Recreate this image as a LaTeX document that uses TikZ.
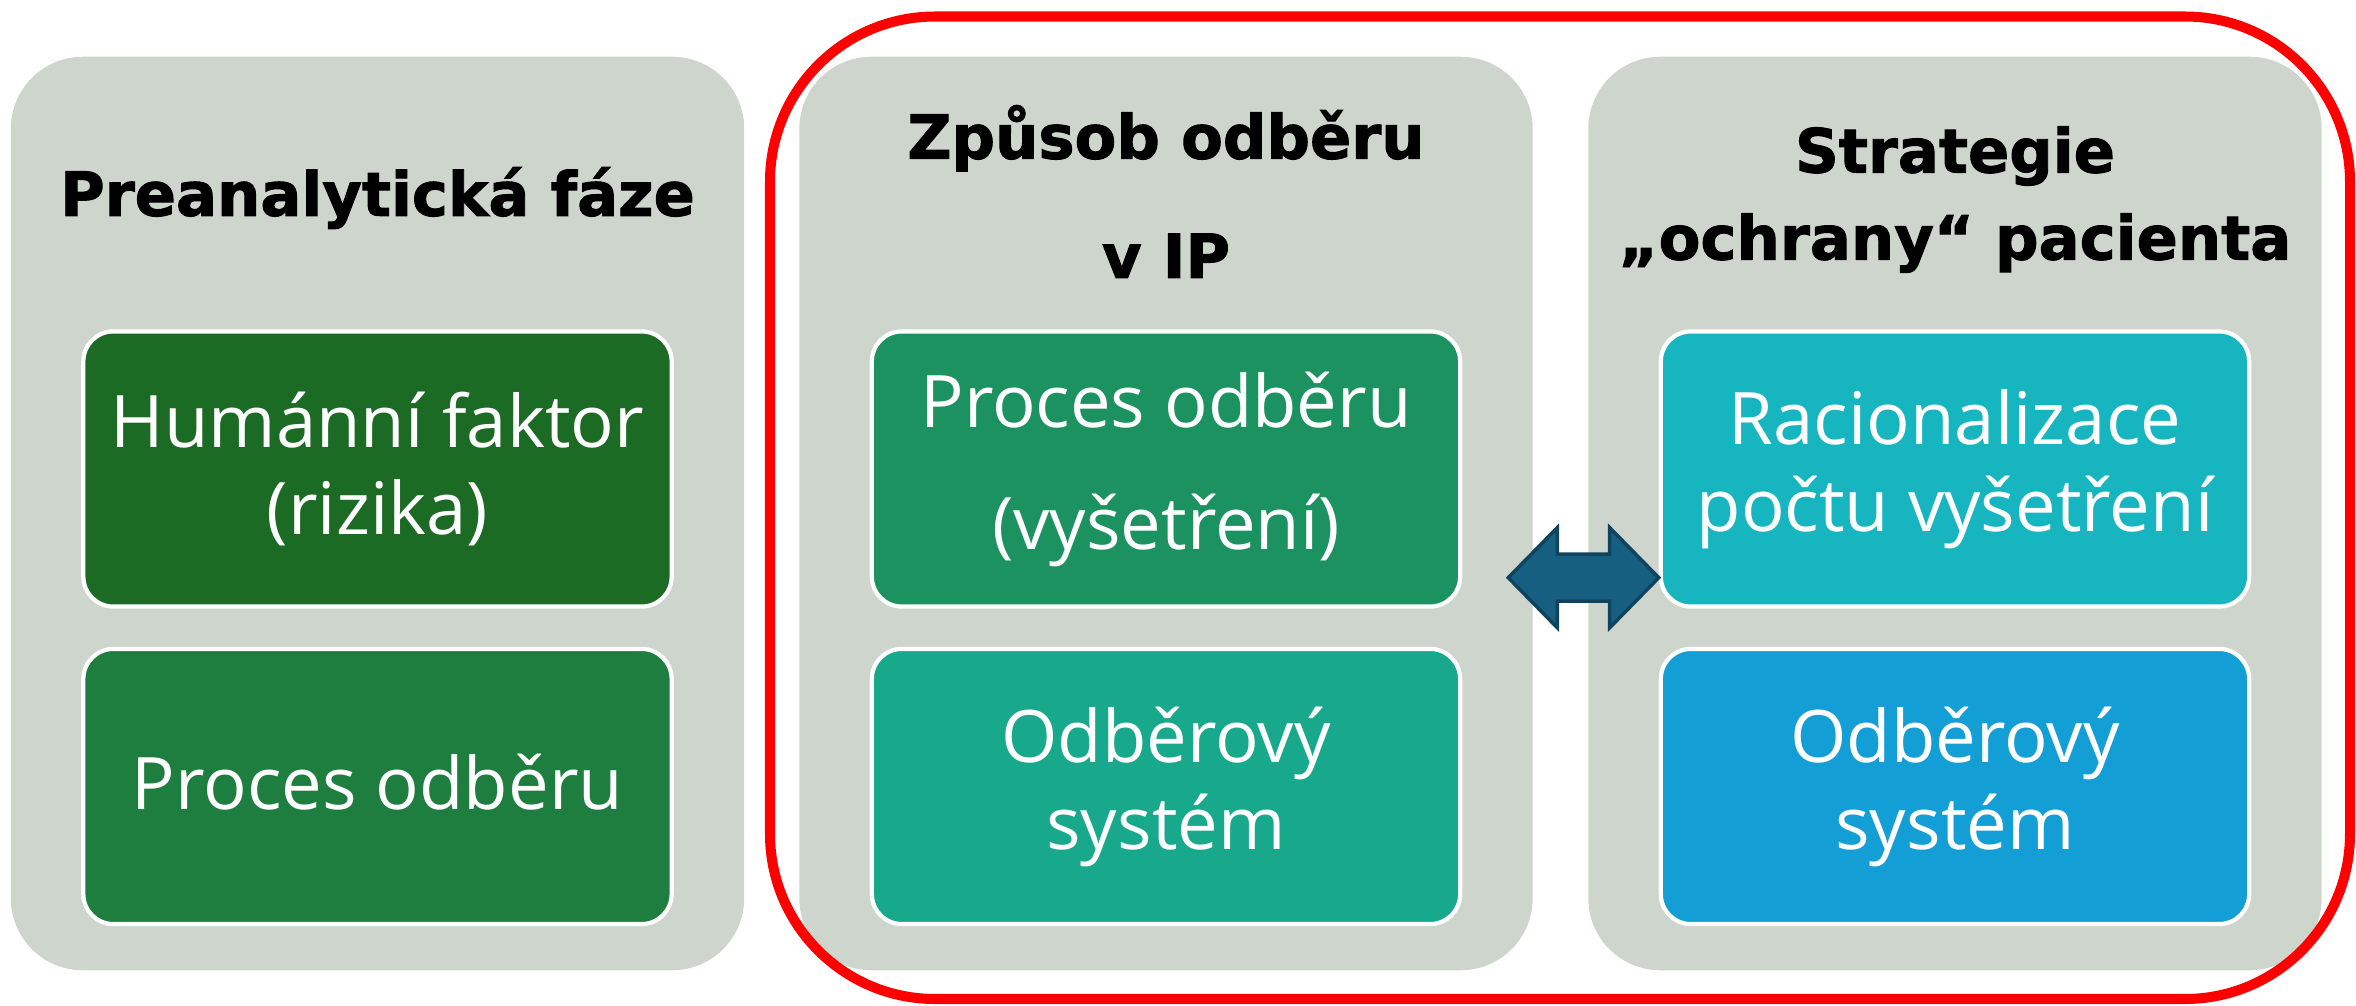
\documentclass[tikz,border=0pt]{standalone}
\usepackage{fontspec}
\setmainfont{Open Sans}
\newfontfamily\headfont{DejaVu Sans}[BoldFeatures={FakeBold=1.6}]
\usepackage{tikz}
\usetikzlibrary{calc}
\usetikzlibrary{positioning}
\definecolor{panelgray}{RGB}{206, 213, 205}
\definecolor{forest}{RGB}{28, 107, 36}
\definecolor{fern}{RGB}{30, 126, 64}
\definecolor{jade}{RGB}{27, 146, 96}
\definecolor{persian}{RGB}{24, 168, 140}
\definecolor{cyanite}{RGB}{22, 181, 192}
\definecolor{cerulean}{RGB}{19, 158, 214}
\definecolor{petrol}{RGB}{22, 95, 128}
\definecolor{petroldark}{RGB}{16, 68, 94}
\definecolor{signalred}{RGB}{255, 0, 0}

\tikzset{
  panel/.style={fill=panelgray, rounded corners=0.72cm, minimum width=7.33cm, minimum height=9.13cm, inner sep=0pt},
  headline/.style={font=\headfont\bfseries\fontsize{17.3pt}{21pt}\selectfont, align=center, text=black, inner sep=0pt},
  card/.style={draw=white, line width=1.2pt, rounded corners=0.3cm, minimum width=5.88cm, minimum height=2.75cm,
               text=white, align=center, inner sep=0pt, font=\fontsize{20.6pt}{24.75pt}\selectfont},
  arrowblk/.style={fill=petrol, draw=petroldark, line width=1pt, line join=miter}
}

\begin{document}
\begin{tikzpicture}[x=0.01cm, y=-0.01cm]
            \useasboundingbox                                              (0, 0) rectangle (2356, 1006);
            \node[panel]                                     (pre)      at (377.5, 513.5) {};
            \node[panel]                                     (odber)    at (1166, 513.5)  {};
            \node[panel]                                     (ochrana)  at (1955, 513.5)  {};
            \node[headline]                                  (pretit)   at (377.5, 198)   {Preanalytická fáze};
            \node[headline, font=\headfont\bfseries\fontsize{17.3pt}{33.9pt}\selectfont]
                                                             (odbertit) at (1166, 191.5)  {Způsob odběru\\v IP};
            \node[headline, font=\headfont\bfseries\fontsize{17.3pt}{24.75pt}\selectfont]
                                                             (ochrtit)  at (1955, 199.5)  {Strategie\\„ochrany“ pacienta};
            \node[card, fill=forest]                         (humfak)   at (377.5, 469)   {Humánní faktor\\(rizika)};
            \node[card, fill=fern, text depth=0.1cm]         (proces)   at (377.5, 786.5) {Proces odběru};
            \node[card, fill=jade, font=\fontsize{20.6pt}{34.7pt}\selectfont]
                                                             (procvys)  at (1166, 469)    {Proces odběru\\(vyšetření)};
            \node[card, fill=persian]                        (odbsys)   at (1166, 786.5)  {Odběrový\\systém};
            \node[card, fill=cyanite]                        (racio)    at (1955, 469)    {Racionalizace\\počtu vyšetření};
            \node[card, fill=cerulean]                       (ochsys)   at (1955, 786.5)  {Odběrový\\systém};
            \coordinate (arrL) at ([shift={(46,-31)}]procvys.south east);
            \coordinate (arrR) at (racio.west |- arrL);
            \filldraw[arrowblk] (arrL) -- ++(49,-50) -- ++(0,26.5) -- ($(arrR)+(-49,-23.5)$) -- ++(0,-26.5) -- (arrR)
                 -- ++(-49,50) -- ++(0,-26.5) -- ($(arrL)+(49,23.5)$) -- ++(0,26.5) -- cycle;
            \draw[signalred, line width=2.85pt, rounded corners=1.65cm]   (770, 16.5) rectangle (2350, 999);
\end{tikzpicture}
\end{document}
